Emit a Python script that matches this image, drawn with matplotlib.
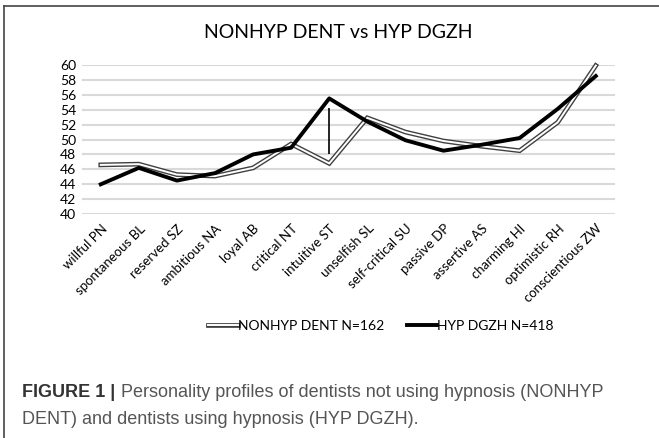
import matplotlib.pyplot as plt
from matplotlib.lines import Line2D
import matplotlib.patheffects as pe

# personality traits (x axis)
traits = ['willful PN', 'spontaneous BL', 'reserved SZ', 'ambitious NA', 'loyal AB',
          'critical NT', 'intuitive ST', 'unselfish SL', 'self-critical SU', 'passive DP',
          'assertive AS', 'charming HI', 'optimistic RH', 'conscientious ZW']

# mean scores
nonhyp = [46.6, 46.7, 45.3, 45.1, 46.2, 49.4, 46.8, 52.9, 51.0, 49.8, 49.1, 48.5, 52.3, 59.9]
hyp = [44.0, 46.2, 44.5, 45.5, 48.0, 48.9, 55.5, 52.4, 49.9, 48.5, 49.3, 50.2, 54.1, 58.5]

# stray vertical marker at intuitive ST
marker_idx = 6
marker_lo, marker_hi = 48.0, 54.2

yticks = list(range(40, 61, 2))

chart_font = 'Lato'

fig = plt.figure(figsize=(6.59, 4.38), dpi=100)
ax = fig.add_axes([0.124, 0.511, 0.809, 0.341])

x = list(range(len(traits)))

# double line: dark outer, white inner
ax.plot(x, nonhyp, color='#404040', lw=3.4, solid_joinstyle='miter', zorder=3, clip_on=False)
ax.plot(x, nonhyp, color='white', lw=1.4, solid_joinstyle='miter', zorder=4, clip_on=False)
ax.plot(x, hyp, color='black', lw=2.8, zorder=5, clip_on=False)
ax.vlines(marker_idx, marker_lo, marker_hi, color='black', lw=1.2, zorder=6)

ax.set_xlim(-0.5, len(traits) - 0.5)
ax.set_ylim(40, 60)
ax.set_yticks(yticks)
ax.set_yticklabels([str(t) for t in yticks], fontsize=10, family=chart_font)
ax.set_xticks(x)
ax.set_xticklabels(traits, rotation=45, ha='right', rotation_mode='anchor',
                   fontsize=9.5, family=chart_font)
ax.tick_params(length=0, pad=4)
ax.tick_params(axis='x', pad=6)
ax.grid(axis='y', color='#d9d9d9', lw=1.5)
ax.set_axisbelow(True)
for s in ax.spines.values():
    s.set_visible(False)

fig.text(0.514, 0.925, 'NONHYP DENT vs HYP DGZH', ha='center', va='center',
         fontsize=14, family=chart_font)

# legend
h1 = Line2D([], [], color='#404040', lw=3.4,
            path_effects=[pe.Stroke(linewidth=3.4, foreground='#404040'),
                          pe.Stroke(linewidth=1.4, foreground='white')])
h2 = Line2D([], [], color='black', lw=2.8)
fig.legend([h1, h2], ['NONHYP DENT N=162', 'HYP DGZH N=418'], loc='center',
           bbox_to_anchor=(0.578, 0.255), ncol=2, frameon=False, handlelength=2.2,
           handletextpad=0.0, columnspacing=1.6, prop={'family': chart_font, 'size': 10})

# caption
cap_size = 13
fig.text(0.033, 0.105, 'FIGURE 1 |', fontsize=cap_size, fontweight='bold', color='#333333',
         family='Liberation Sans', va='center')
fig.text(0.183, 0.105, 'Personality profiles of dentists not using hypnosis (NONHYP',
         fontsize=cap_size, color='#555555', family='Liberation Sans', va='center')
fig.text(0.033, 0.042, 'DENT) and dentists using hypnosis (HYP DGZH).',
         fontsize=cap_size, color='#555555', family='Liberation Sans', va='center')

# frame lines on top and left
fig.add_artist(Line2D([0.006, 1.0], [0.987, 0.987], color='#444444', lw=1.2))
fig.add_artist(Line2D([0.006, 0.006], [0.0, 0.987], color='#444444', lw=1.2))

fig.savefig('out.png', dpi=100)
